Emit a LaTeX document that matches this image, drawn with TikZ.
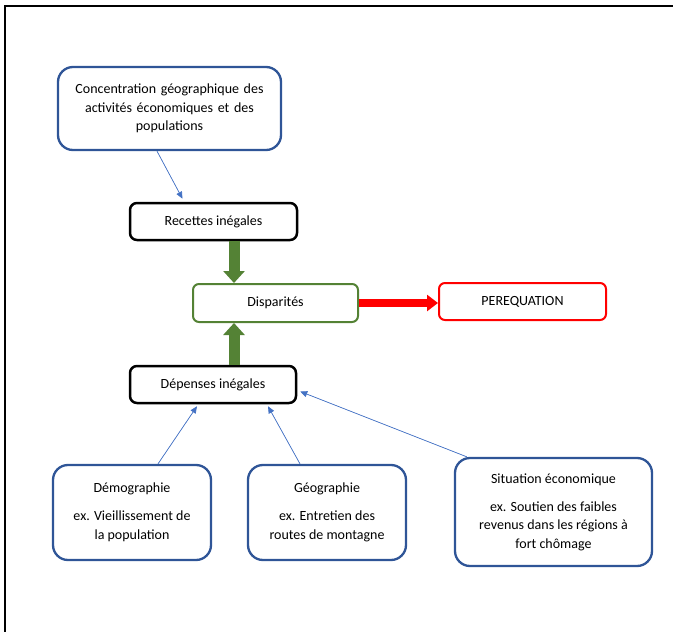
\documentclass[tikz,border=0pt]{standalone}
\usepackage{fontspec}
\setmainfont{Carlito}
\usetikzlibrary{arrows.meta,positioning}

\definecolor{boxblue}{HTML}{2F5597}
\definecolor{linkblue}{HTML}{4472C4}
\definecolor{dispgreen}{HTML}{548235}
\definecolor{pereqred}{HTML}{FF0000}

\begin{document}
\begin{tikzpicture}[x=1pt, y=-1pt, >=Stealth,
   every node/.style={font=\fontsize{14}{18.5}\selectfont, inner sep=0pt, align=center},
   blue box/.style={draw=boxblue, line width=2.3pt, rounded corners=15pt},
   black box/.style={draw=black, line width=2.5pt, rounded corners=7pt},
   green box/.style={draw=dispgreen, line width=2pt, rounded corners=6pt},
   red box/.style={draw=pereqred, line width=2pt, rounded corners=6pt},
   link/.style={draw=linkblue, line width=0.7pt, -{Triangle[width=6pt,length=7pt]}, fill=linkblue},
   green arrow/.style={draw=dispgreen, line width=11pt, -{Triangle[width=21pt,length=12pt]}},
   red arrow/.style={draw=pereqred, line width=8pt, -{Triangle[width=16pt,length=11pt]}}]
   \useasboundingbox (0,0) rectangle (673,632);
   % page frame
   \draw[line width=1.4pt] (5,632) -- (5,6) -- (673,6);

   \node (conc) at (169.5,108.5) [blue box, minimum width=223pt, minimum height=83pt, text width=210pt]
      {Concentration géographique des\\activités économiques et des\\populations};
   \node (rec) at (213.5,221.5) [black box, minimum width=167pt, minimum height=37pt] {Recettes inégales};
   \node (disp) at (275.5,303) [green box, minimum width=165pt, minimum height=38pt] {Disparités};
   \node (pereq) at (522.5,301.5) [red box, minimum width=167pt, minimum height=37pt] {PEREQUATION};
   \node (dep) at (213,384.5) [black box, minimum width=166pt, minimum height=37pt] {Dépenses inégales};
   \node (demo) at (132,512.5) [blue box, minimum width=158pt, minimum height=95pt]
      {Démographie\\[9.5pt]ex. Vieillissement de\\la population};
   \node (geo) at (327,512.5) [blue box, minimum width=158pt, minimum height=95pt]
      {Géographie\\[9.5pt]ex. Entretien des\\routes de montagne};
   \node (situ) at (553.5,512) [blue box, minimum width=197pt, minimum height=108pt]
      {Situation économique\\[9.5pt]ex. Soutien des faibles\\revenus dans les régions à\\fort chômage};

   \draw[link] ([xshift=-12.5pt]conc.south) -- ([xshift=-31pt,yshift=3pt]rec.north);
   \draw[green arrow] ([xshift=20.5pt]rec.south) -- ([xshift=-41.5pt]disp.north);
   \draw[green arrow] ([xshift=21pt]dep.north) -- ([xshift=-41.5pt]disp.south);
   \draw[red arrow] (disp.east) -- (disp.east -| pereq.west);
   \draw[link] ([xshift=26pt]demo.north) -- ([xshift=-16pt,yshift=-2pt]dep.south);
   \draw[link] ([xshift=-27pt]geo.north) -- ([xshift=55pt,yshift=-2pt]dep.south);
   \draw[link] ([xshift=13pt]situ.north west) -- ([xshift=3pt,yshift=-7pt]dep.east);

\end{tikzpicture}
\end{document}
